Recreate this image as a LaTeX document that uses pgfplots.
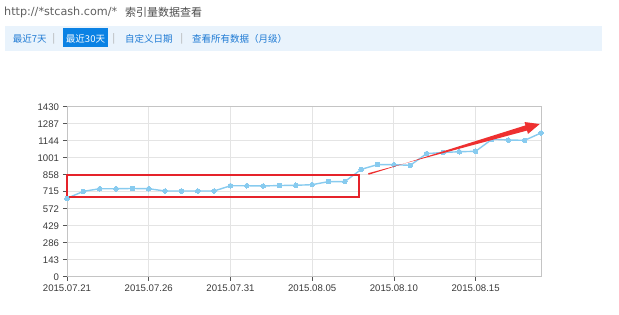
\documentclass[border=0pt]{standalone}
\usepackage{pgfplots}
\pgfplotsset{compat=1.18}
\usepackage{fontspec}
\setmainfont{Liberation Sans}
\newfontfamily\cjk{Noto Sans CJK SC}
\newfontfamily\dv{DejaVu Sans}
\usetikzlibrary{calc}
\definecolor{linec}{HTML}{88CBEF}
\definecolor{gridc}{HTML}{E4E4E4}
\definecolor{axc}{HTML}{C4C4C4}
\definecolor{tickc}{HTML}{555555}
\definecolor{labc}{HTML}{3A3A3A}
\definecolor{boxred}{HTML}{E5232A}
\definecolor{arrred}{HTML}{EE3030}
\definecolor{tabbg}{HTML}{E9F3FC}
\definecolor{tabblue}{HTML}{1E7AD4}
\definecolor{selbg}{HTML}{0B82E4}
\definecolor{headgray}{HTML}{606060}

\pgfplotstableread{
x y
0 659
1 718
2 740
3 740
4 742
5 740
6 721
7 721
8 721
9 721
10 765
11 765
12 763
13 767
14 769
15 774
16 800
17 800
18 903
19 943
20 942
21 937
22 1035
23 1045
24 1051
25 1055
26 1156
27 1150
28 1147
29 1209
}\datatable

\begin{document}
\begin{tikzpicture}
\useasboundingbox (0pt,0pt) rectangle (619pt,-315pt);
\fill[white] (0pt,0pt) rectangle (619pt,-315pt);
% header
\node[anchor=west, text=headgray, font=\dv\fontsize{11.2}{12}\selectfont, inner sep=0pt] at (4pt,-12.5pt) {http://*stcash.com/*};
\node[anchor=west, text=headgray!80!black, font=\cjk\fontsize{11}{12}\selectfont, inner sep=0pt] at (125pt,-12.5pt) {索引量数据查看};
% tab bar
\fill[tabbg] (5pt,-26pt) rectangle (602pt,-51.5pt);
\fill[selbg] (63pt,-28.5pt) rectangle (108pt,-47.5pt);
\begin{scope}[every node/.style={font=\cjk\fontsize{9.5}{10}\selectfont, inner sep=0pt}]
\node[anchor=west, text=tabblue] at (12.7pt,-38.5pt) {最近7天};
\node[text=gray!70] at (54pt,-38.5pt) {|};
\node[text=white] at (85.5pt,-38.5pt) {最近30天};
\node[text=gray!70] at (114pt,-38.5pt) {|};
\node[anchor=west, text=tabblue] at (125pt,-38.5pt) {自定义日期};
\node[text=gray!70] at (182pt,-38.5pt) {|};
\node[anchor=west, text=tabblue] at (192pt,-38.5pt) {查看所有数据（月级）};
\end{scope}
\begin{axis}[
  at={(67pt,-276.7pt)}, anchor=south west,
  scale only axis, width=474pt, height=170pt,
  xmin=0, xmax=29, ymin=0, ymax=1430,
  clip=false,
  xtick={0,5,10,15,20,25},
  xticklabels={2015.07.21,2015.07.26,2015.07.31,2015.08.05,2015.08.10,2015.08.15},
  ytick={0,143,286,429,572,715,858,1001,1144,1287,1430},
  /pgf/number format/assume math mode=true,
  /pgf/number format/1000 sep={},
  ticklabel style={font=\fontsize{9.6}{10}\selectfont, text=labc},
  xtick pos=bottom, ytick pos=left,
  tick align=outside,
  major tick length=4pt,
  tick style={draw=tickc, line width=0.7pt},
  grid=major,
  major grid style={draw=gridc, line width=0.8pt},
  axis line style={draw=axc, line width=0.8pt},
  xticklabel style={yshift=-1pt},
  yticklabel style={xshift=-0.5pt},
]
\addplot[color=linec, line width=1.4pt, mark=*, mark size=2.3pt, mark options={fill=linec, draw=linec, line width=0pt}] table[x=x,y=y] {\datatable};
\draw[draw=boxred, line width=1.8pt] (axis cs:0,668) -- (axis cs:17.86,668) -- (axis cs:17.86,855) -- (axis cs:0,855) -- cycle;
\coordinate (A) at (axis cs:18.44,864);
\coordinate (B) at (axis cs:28.92,1284);
\end{axis}
\coordinate (H) at ($(B)!14pt!(A)$);
\fill[arrred] ($(A)!0.8pt!90:(B)$) -- ($(H)!2.7pt!-90:(B)$) -- ($(H)!6.2pt!-90:(B)$) -- (B) -- ($(H)!6.2pt!90:(B)$) -- ($(H)!2.7pt!90:(B)$) -- ($(A)!0.8pt!-90:(B)$) -- cycle;
\end{tikzpicture}
\end{document}
